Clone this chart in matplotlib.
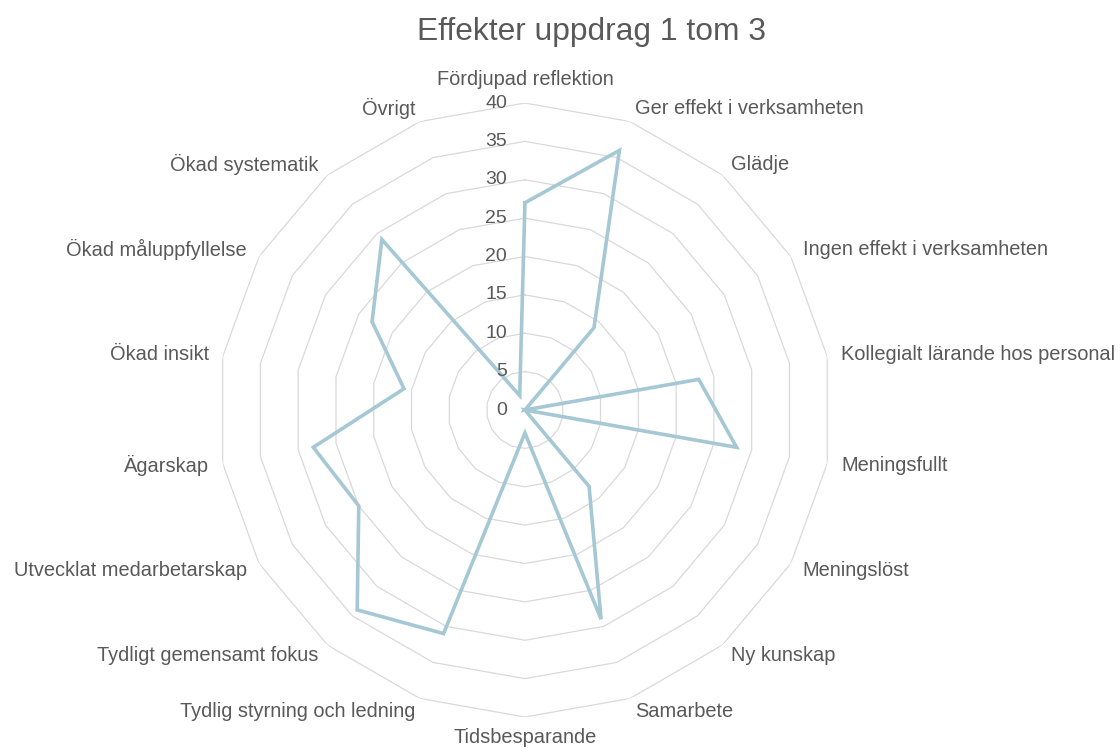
import numpy as np
import matplotlib.pyplot as plt

plt.rcParams['font.family'] = ['Liberation Sans', 'DejaVu Sans']

categories = ['Fördjupad reflektion', 'Ger effekt i verksamheten', 'Glädje',
              'Ingen effekt i verksamheten', 'Kollegialt lärande hos personal',
              'Meningsfullt', 'Meningslöst', 'Ny kunskap', 'Samarbete',
              'Tidsbesparande', 'Tydlig styrning och ledning',
              'Tydligt gemensamt fokus', 'Utvecklat medarbetarskap', 'Ägarskap',
              'Ökad insikt', 'Ökad måluppfyllelse', 'Ökad systematik', 'Övrigt']
values = [27, 36, 14, 0, 23, 28, 0, 13, 29, 3, 31, 34, 25, 28, 16, 23, 29, 2]
rings = [0, 5, 10, 15, 20, 25, 30, 35, 40]

text_col = '#595959'
grid_col = '#D9D9D9'
line_col = '#A5C8D4'

n = len(categories)
angles = np.arange(n) * 2 * np.pi / n

fig = plt.figure(figsize=(11.2, 7.49), dpi=100)
ax = fig.add_axes([0.1946, 0.0427, 0.5482, 0.8198], projection='polar')
ax.set_theta_zero_location('N')
ax.set_theta_direction(-1)
ax.set_ylim(0, 40)
ax.grid(False)
ax.spines['polar'].set_visible(False)
ax.set_xticks([])
ax.set_yticks([])

# polygon grid rings (no spokes, like Excel)
closed = np.append(angles, angles[0])
for r in rings[1:]:
    ax.plot(closed, [r] * (n + 1), color=grid_col, lw=0.9, zorder=1)

# data line
ax.plot(closed, values + [values[0]], color=line_col, lw=2.6, zorder=3,
        solid_joinstyle='miter')

# radial tick labels
for r in rings:
    ax.annotate(str(r), xy=(0, r), xytext=(-13, 0), textcoords='offset points',
                ha='right', va='center', fontsize=14, color=text_col)

# category labels
for a, lab in zip(angles, categories):
    s, c = np.sin(a), np.cos(a)
    d = 10
    dx, dy = d * s, d * c
    if abs(s) < 0.01:
        ha = 'center'
        va = 'bottom' if c > 0 else 'top'
        dy = 10 if c > 0 else -8
    else:
        ha = 'left' if s > 0 else 'right'
        va = 'center'
    ax.annotate(lab, xy=(a, 40), xytext=(dx, dy), textcoords='offset points',
                ha=ha, va=va, fontsize=14.4, color=text_col, annotation_clip=False)

fig.text(0.528, 0.957, 'Effekter uppdrag 1 tom 3', ha='center', va='center',
         fontsize=22.9, color=text_col)

fig.savefig('out.png', dpi=100)
